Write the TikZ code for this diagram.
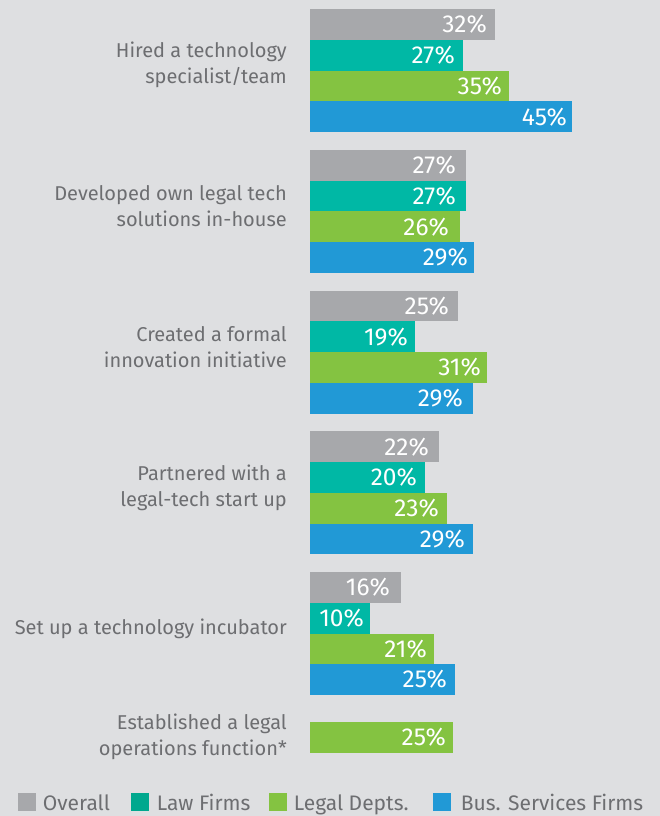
\documentclass[tikz,border=0pt]{standalone}
\usepackage{fontspec}
\setmainfont{Fira Sans}
\definecolor{bgcol}{HTML}{DEDFE1}
\definecolor{overall}{HTML}{A7A8AB}
\definecolor{lawfirm}{HTML}{00B8A5}
\definecolor{lawfirmkey}{HTML}{00A88E}
\definecolor{legaldept}{HTML}{84C341}
\definecolor{busserv}{HTML}{2199D6}
\definecolor{labelgray}{HTML}{6D6E71}
\begin{document}
\begin{tikzpicture}[x=1pt,y=-1pt,
  pct/.style={anchor=east,inner sep=0pt,text=white,font=\fontsize{24.5}{24.5}\selectfont},
  lbl/.style={anchor=east,align=right,inner sep=0pt,text=labelgray,font=\fontsize{20}{26}\selectfont},
  key/.style={anchor=base west,inner sep=0pt,text=labelgray,font=\fontsize{21}{21}\selectfont}]
\fill[bgcol] (0,0) rectangle (660,816);
\useasboundingbox (0,0) rectangle (660,816);
% Hired a technology specialist/team
\node[lbl] (lbl1) at (287,65.2) {Hired a technology\\specialist/team};
\fill[overall] (310,9.3) rectangle (495,40);
\node[pct] (ov1) at (487,24.65) {32\%};
\fill[lawfirm] (310,40) rectangle (463,70.7);
\node[pct] (lf1) at (455,55.35) {27\%};
\fill[legaldept] (310,70.7) rectangle (509,101.4);
\node[pct] (ld1) at (502,86.05) {35\%};
\fill[busserv] (310,101.4) rectangle (572,132.1);
\node[pct] (bs1) at (567,116.75) {45\%};
% Developed own legal tech solutions in-house
\node[lbl] (lbl2) at (287,206) {Developed own legal tech\\solutions in-house};
\fill[overall] (310,150) rectangle (465.7,180.7);
\node[pct] (ov2) at (456,165.35) {27\%};
\fill[lawfirm] (310,180.7) rectangle (465.7,211.4);
\node[pct] (lf2) at (456,196.05) {27\%};
\fill[legaldept] (310,211.4) rectangle (460,242.1);
\node[pct] (ld2) at (449,226.75) {26\%};
\fill[busserv] (310,242.1) rectangle (474,272.8);
\node[pct] (bs2) at (468,257.45) {29\%};
% Created a formal innovation initiative
\node[lbl] (lbl3) at (287,346.7) {Created a formal\\innovation initiative};
\fill[overall] (310,290.7) rectangle (457.7,321.4);
\node[pct] (ov3) at (449,306.05) {25\%};
\fill[lawfirm] (310,321.4) rectangle (415,352.1);
\node[pct] (lf3) at (408,336.75) {19\%};
\fill[legaldept] (310,352.1) rectangle (487,382.8);
\node[pct] (ld3) at (481,367.45) {31\%};
\fill[busserv] (310,382.8) rectangle (473,413.5);
\node[pct] (bs3) at (463,398.15) {29\%};
% Partnered with a legal-tech start up
\node[lbl] (lbl4) at (287,487.4) {Partnered with a\\legal-tech start up};
\fill[overall] (310,431.4) rectangle (438.7,462.1);
\node[pct] (ov4) at (429,446.75) {22\%};
\fill[lawfirm] (310,462.1) rectangle (425,492.8);
\node[pct] (lf4) at (417,477.45) {20\%};
\fill[legaldept] (310,492.8) rectangle (447,523.5);
\node[pct] (ld4) at (439,508.15) {23\%};
\fill[busserv] (310,523.5) rectangle (473,554.2);
\node[pct] (bs4) at (465,538.85) {29\%};
% Set up a technology incubator
\node[lbl] (lbl5) at (287,628.5) {Set up a technology incubator};
\fill[overall] (310,572.1) rectangle (400.7,602.8);
\node[pct] (ov5) at (390,587.45) {16\%};
\fill[lawfirm] (310,602.8) rectangle (370,633.5);
\node[pct] (lf5) at (364,618.15) {10\%};
\fill[legaldept] (310,633.5) rectangle (434,664.2);
\node[pct] (ld5) at (427,648.85) {21\%};
\fill[busserv] (310,664.2) rectangle (455,694.9);
\node[pct] (bs5) at (447,679.55) {25\%};
% Established a legal operations function*
\node[lbl] (lbl6) at (287,737) {Established a legal\\operations function*};
\fill[legaldept] (310,722) rectangle (453,752.7);
\node[pct] (ld6) at (446,737.35) {25\%};
% legend
\fill[overall] (18,793) rectangle (36,811);
\node[key] (keyov) at (42.7,810.7) {Overall};
\fill[lawfirmkey] (131,793) rectangle (149,811);
\node[key] (keylf) at (156.7,810.7) {Law Firms};
\fill[legaldept] (269,793) rectangle (287,811);
\node[key] (keyld) at (293.7,810.7) {Legal Depts.};
\fill[busserv] (433,793) rectangle (451,811);
\node[key] (keybs) at (460.7,810.7) {Bus. Services Firms};
\end{tikzpicture}
\end{document}
